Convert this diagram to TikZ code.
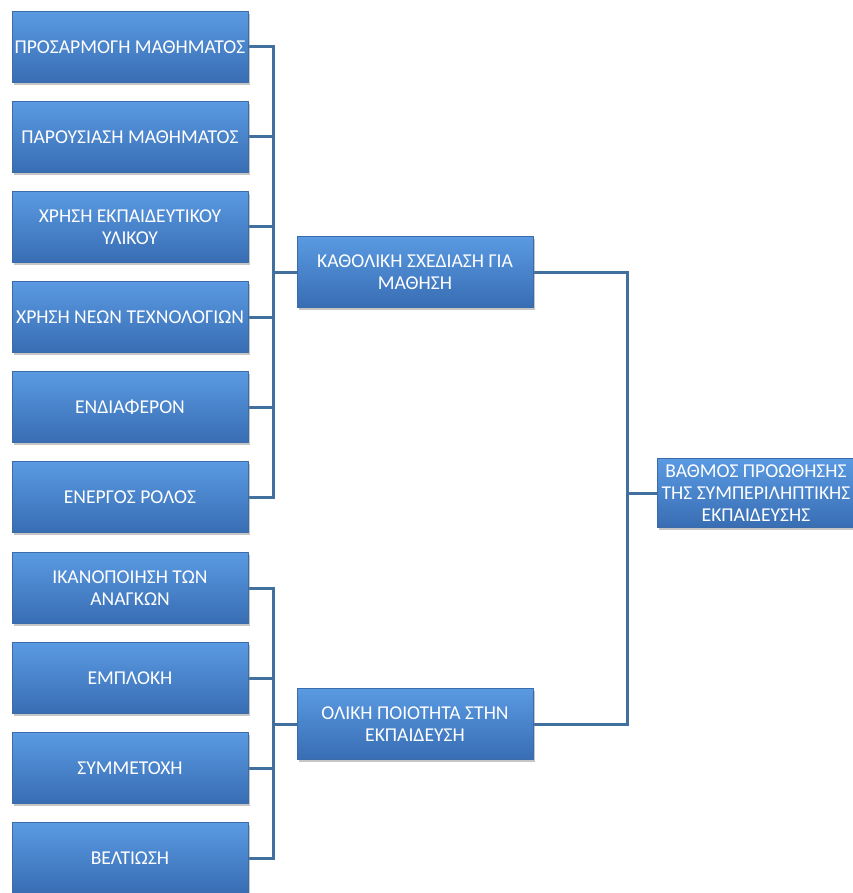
\documentclass[tikz,border=0pt]{standalone}
\usepackage{fontspec}
\setmainfont{Carlito}
\usetikzlibrary{shadows,backgrounds}
\definecolor{boxtop}{HTML}{5A9AE2}
\definecolor{boxbot}{HTML}{386DB3}
\definecolor{boxrim}{HTML}{3B6BA8}
\definecolor{linkblue}{HTML}{41709F}
\begin{document}
\begin{tikzpicture}[x=1pt,y=-1pt,line join=round,
    box/.style={draw=boxrim,line width=0.8pt,top color=boxtop,bottom color=boxbot,
      text=white,minimum width=236pt,minimum height=71pt,inner sep=0pt,align=center,
      font=\fontsize{19.6}{22}\selectfont,
      drop shadow={shadow xshift=1.5pt,shadow yshift=-2.5pt,opacity=0.45}},
    link/.style={draw=linkblue,line width=3pt,line cap=rect}]
  \useasboundingbox (0,0) rectangle (852,893);
  % left column
  \foreach \name/\y/\txt in {p1/47/{ΠΡΟΣΑΡΜΟΓΗ ΜΑΘΗΜΑΤΟΣ},
      p2/137/{ΠΑΡΟΥΣΙΑΣΗ ΜΑΘΗΜΑΤΟΣ},
      p3/227/{ΧΡΗΣΗ ΕΚΠΑΙΔΕΥΤΙΚΟΥ\\ΥΛΙΚΟΥ},
      p4/317/{ΧΡΗΣΗ ΝΕΩΝ ΤΕΧΝΟΛΟΓΙΩΝ},
      p5/407/{ΕΝΔΙΑΦΕΡΟΝ},
      p6/497/{ΕΝΕΡΓΟΣ ΡΟΛΟΣ},
      p7/588/{ΙΚΑΝΟΠΟΙΗΣΗ ΤΩΝ\\ΑΝΑΓΚΩΝ},
      p8/678/{ΕΜΠΛΟΚΗ},
      p9/768/{ΣΥΜΜΕΤΟΧΗ},
      p10/858/{ΒΕΛΤΙΩΣΗ}}
    \node[box] (\name) at (130,\y) {\txt};
  % middle and right
  \node[box] (k) at (415,272) {ΚΑΘΟΛΙΚΗ ΣΧΕΔΙΑΣΗ ΓΙΑ\\ΜΑΘΗΣΗ};
  \node[box] (o) at (415,724) {ΟΛΙΚΗ ΠΟΙΟΤΗΤΑ ΣΤΗΝ\\ΕΚΠΑΙΔΕΥΣΗ};
  \node[box,minimum width=198pt,minimum height=69pt] (v) at (756,493)
    {ΒΑΘΜΟΣ ΠΡΟΩΘΗΣΗΣ\\ΤΗΣ ΣΥΜΠΕΡΙΛΗΠΤΙΚΗΣ\\ΕΚΠΑΙΔΕΥΣΗΣ};
  \coordinate (ka) at (273,0);
  \coordinate (kb) at (627,0);
  \begin{scope}[on background layer]
    \foreach \i in {1,...,10}
      \draw[link] (p\i.east) -- (p\i.east -| ka);
    \draw[link] (p1.east -| ka) -- (p6.east -| ka);
    \draw[link] (p7.east -| ka) -- (p10.east -| ka);
    \draw[link] (k.west) -- (k.west -| ka);
    \draw[link] (o.west) -- (o.west -| ka);
    \draw[link] (k.east) -- (k.east -| kb) -- (o.east -| kb) -- (o.east);
    \draw[link] (v.west) -- (v.west -| kb);
  \end{scope}
\end{tikzpicture}
\end{document}
